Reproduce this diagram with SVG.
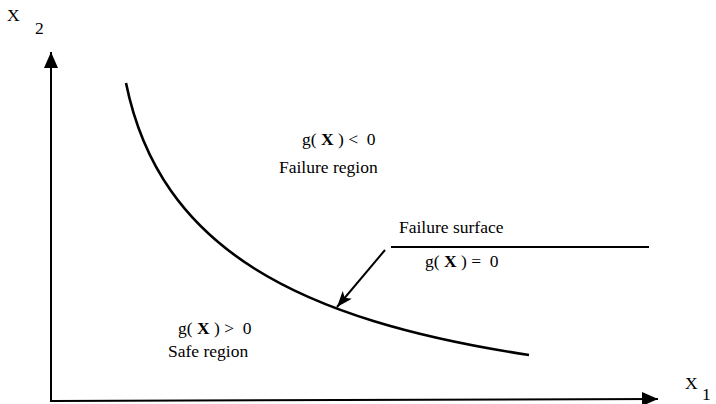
<svg xmlns="http://www.w3.org/2000/svg" width="716" height="404" viewBox="0 0 716 404">
<style>
text{font-family:"Liberation Serif","Times New Roman",serif;font-size:17.5px;fill:#000}
.b{font-weight:bold}
.ax{stroke:#000;stroke-width:2;fill:none}
</style>
<defs>
<marker id="ah" markerWidth="16" markerHeight="12" refX="16" refY="6" orient="auto" markerUnits="userSpaceOnUse" viewBox="0 0 16 12">
<path d="M0,0 L16,6 L0,12 L4,6 Z" fill="#000"/>
</marker>
<marker id="ax" markerWidth="16" markerHeight="14" refX="16" refY="7" orient="auto" markerUnits="userSpaceOnUse" viewBox="0 0 16 14">
<path d="M0,0 L16,7 L0,14 Z" fill="#000"/>
</marker>
</defs>
<g id="axes">
<line class="ax" x1="51" y1="402" x2="51" y2="52" marker-end="url(#ax)"/>
<line class="ax" x1="51" y1="401" x2="658" y2="399" marker-end="url(#ax)"/>
<text x="7" y="21">X</text>
<text x="35" y="34" font-size="15">2</text>
<text x="685" y="389">X</text>
<text x="702" y="400" font-size="14">1</text>
</g>
<g id="curve">
<path d="M126,83 C160,250 300,320 529,355" stroke="#000" stroke-width="2.6" fill="none"/>
</g>
<g id="labels">
<text x="302" y="145" xml:space="preserve">g( <tspan class="b">X</tspan> ) &lt;  0</text>
<text x="279" y="173">Failure region</text>
<text x="178" y="334" xml:space="preserve">g( <tspan class="b">X</tspan> ) &gt;  0</text>
<text x="168" y="357">Safe region</text>
<text x="399" y="233">Failure surface</text>
<text x="425" y="267" xml:space="preserve">g( <tspan class="b">X</tspan> ) =  0</text>
</g>
<g id="connectors">
<line x1="391" y1="247" x2="649" y2="247" stroke="#000" stroke-width="2"/>
<line x1="385" y1="250" x2="337" y2="307" stroke="#000" stroke-width="2" marker-end="url(#ah)"/>
</g>
</svg>
